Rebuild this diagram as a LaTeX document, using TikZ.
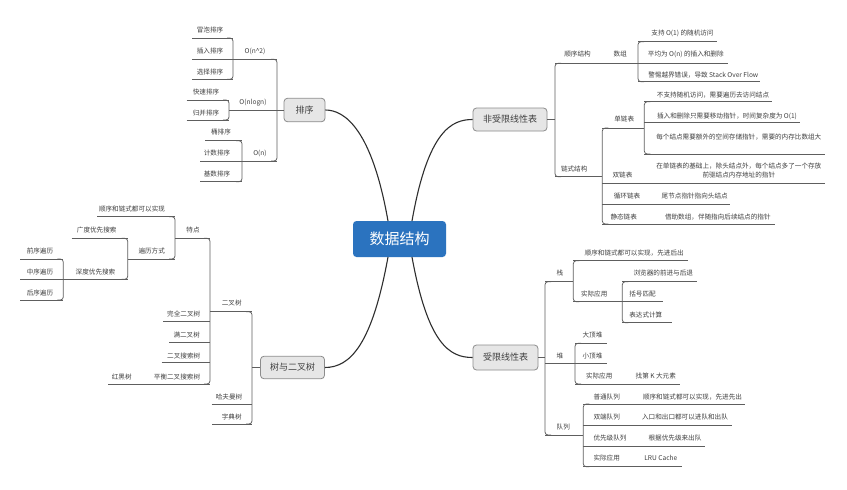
\documentclass[tikz,border=0pt]{standalone}
\usepackage{fontspec}
\setmainfont{Noto Sans CJK SC}
\definecolor{txt}{HTML}{404040}
\definecolor{lnc}{HTML}{5E5E5E}
\definecolor{topicfill}{HTML}{E6E6E6}
\definecolor{topicdraw}{HTML}{8C8C8C}
\definecolor{mainblue}{HTML}{2B73BF}
\definecolor{curve}{HTML}{2E2E2E}
\newcommand\hln[3]{\draw[ln] (#2,#1) -- (#3,#1);}
\newcommand\bkL[3]{\draw[ln,rounded corners=3pt] ({#1-6},#2) -- (#1,#2) -- (#1,#3) -- ({#1-6},#3);}
\newcommand\bkR[3]{\draw[ln,rounded corners=3pt] ({#1+6},#2) -- (#1,#2) -- (#1,#3) -- ({#1+6},#3);}
\begin{document}
\begin{tikzpicture}[x=1pt,y=-1pt,
  t/.style={font=\fontsize{6.6}{9}\selectfont, text=txt, inner sep=0pt},
  ln/.style={draw=lnc, line width=0.75pt},
  topic/.style={draw=topicdraw, fill=topicfill, rounded corners=3.5pt, line width=0.8pt,
     font=\fontsize{9}{10}\selectfont, text=txt, inner sep=0pt},
  central/.style={fill=mainblue, rounded corners=3.5pt, text=white,
     font=\fontsize{15}{16}\selectfont, inner sep=0pt, minimum width=93pt, minimum height=36pt},
  trunk/.style={draw=curve, line width=1.1pt}
]
\useasboundingbox (0,0) rectangle (847,490);
\fill[white] (0,0) rectangle (847,490);

% ---------- main nodes ----------
\node[central] (root) at (399.5,239) {数据结构};
\node[topic, minimum width=41pt, minimum height=23.5pt] (sort) at (304.5,110) {排序};
\node[topic, minimum width=74pt, minimum height=23pt] (unl) at (510,119.5) {非受限线性表};
\node[topic, minimum width=65pt, minimum height=25pt] (lim) at (505.5,357.5) {受限线性表};
\node[topic, minimum width=64pt, minimum height=22.5pt] (tree) at (292.5,367.5) {树与二叉树};

\coordinate (rtl) at (388,221);
\coordinate (rtr) at (412,221);
\coordinate (rbl) at (388,257);
\coordinate (rbr) at (412,257);
\draw[trunk] (rtl) .. controls (372,130) and (345,110) .. (sort.east);
\draw[trunk] (rtr) .. controls (428,130) and (452,119.5) .. (unl.west);
\draw[trunk] (rbl) .. controls (372,345) and (350,367.5) .. (tree.east);
\draw[trunk] (rbr) .. controls (428,345) and (450,357.5) .. (lim.west);

% ---------- 排序 ----------
\node[t] (s1) at (210,30) {冒泡排序};
\node[t] (s2) at (210,51) {插入排序};
\node[t] (s3) at (210,72) {选择排序};
\node[t] (s4) at (255,51) {O(n\textasciicircum 2)};
\node[t] (s5) at (253,102.5) {O(nlogn)};
\node[t] (s6) at (206,91.5) {快速排序};
\node[t] (s7) at (206,113) {归并排序};
\node[t] (s8) at (260,153) {O(n)};
\node[t] (s9) at (221,132) {桶排序};
\node[t] (s10) at (217,153) {计数排序};
\node[t] (s11) at (217,174) {基数排序};

\hln{38}{192}{233}
\hln{59.3}{192}{277}
\hln{79.3}{192}{233}
\bkL{233}{38}{79.3}
\draw[ln] (229,110) -- (sort.west);
\hln{100}{186.7}{229}
\hln{120}{186.7}{229}
\bkL{229}{100}{120}
\hln{161}{200}{277}
\hln{140.7}{205}{242}
\hln{181.7}{200}{242}
\bkL{242}{140.7}{181.7}
\bkL{277}{59.3}{161}

% ---------- 树与二叉树 ----------
\node[t] (t1) at (132,209.3) {顺序和链式都可以实现};
\node[t] (t2) at (193,230) {特点};
\node[t] (t3) at (151.7,251) {遍历方式};
\node[t] (t4) at (96.7,230) {广度优先搜索};
\node[t] (t5) at (95.5,271.7) {深度优先搜索};
\node[t] (t6) at (40,251) {前序遍历};
\node[t] (t7) at (40,271.7) {中序遍历};
\node[t] (t8) at (40,292.7) {后序遍历};
\node[t] (t9) at (231.7,303.3) {二叉树};
\node[t] (t10) at (183.7,314.3) {完全二叉树};
\node[t] (t11) at (186.7,335) {满二叉树};
\node[t] (t12) at (183.7,355.7) {二叉搜索树};
\node[t] (t13) at (177,376.7) {平衡二叉搜索树};
\node[t] (t14) at (121.7,376.7) {红黑树};
\node[t] (t15) at (229,396.7) {哈夫曼树};
\node[t] (t16) at (231.7,416.7) {字典树};

\hln{216.7}{97}{175}
\hln{238.3}{175}{210}
\hln{238.3}{71.7}{127.7}
\bkL{175}{216.7}{259}
\hln{259}{127.7}{175}
\hln{259}{20}{63.3}
\bkL{127.7}{238.3}{279.3}
\hln{279.3}{20}{127.7}
\bkL{63.3}{259}{300}
\hln{300}{20}{63.3}
\bkL{210}{238.3}{384}
\hln{311.7}{210}{252}
\hln{321.7}{163.3}{210}
\hln{342.3}{169}{210}
\hln{362.7}{161.7}{210}
\hln{384}{108.3}{210}
\bkL{252}{311.7}{424}
\draw[ln] (252,367.5) -- (tree.west);
\hln{404}{211.7}{252}
\hln{424}{212}{252}

% ---------- 非受限线性表 ----------
\node[t] (n1) at (577.5,54.3) {顺序结构};
\node[t] (n2) at (620.3,54.3) {数组};
\node[t] (n3) at (682.5,33.3) {支持 O(1) 的随机访问};
\node[t] (n4) at (685.8,54.3) {平均为 O(n) 的插入和删除};
\node[t] (n5) at (703.3,75) {警惕越界错误，导致 Stack Over Flow};
\node[t] (n6) at (574.2,169.3) {链式结构};
\node[t] (n7) at (624.2,119.3) {单链表};
\node[t] (n8) at (713,95) {不支持随机访问，需要遍历去访问结点};
\node[t] (n9) at (727,116) {插入和删除只需要移动指针，时间复杂度为 O(1)};
\node[t] (n10) at (738.8,137.3) {每个结点需要额外的空间存储指针，需要的内存比数组大};
\node[t] (n11) at (622.5,175) {双链表};
\node[t, align=center] (n12) at (738.8,170.5) {在单链表的基础上，除头结点外，每个结点多了一个存放\\前驱结点内存地址的指针};
\node[t] (n13) at (627,196) {循环链表};
\node[t] (n14) at (694.7,196) {尾节点指针指向头结点};
\node[t] (n15) at (623.7,217.3) {静态链表};
\node[t] (n16) at (717.8,217.3) {借助数组，伴随指向后续结点的指针};

\draw[ln] (unl.east) -- (555,119.5);
\bkR{555}{63.3}{176.7}
\hln{63.3}{555}{728.3}
\bkR{638}{41.7}{81.7}
\hln{41.7}{638}{716.7}
\hln{81.7}{638}{760}
\hln{176.7}{555}{602.3}
\bkR{602.3}{128}{224}
\hln{128}{602.3}{644.3}
\bkR{644.3}{101.7}{154}
\hln{101.7}{644.3}{771.7}
\hln{122.5}{644.3}{800}
\hln{154}{644.3}{825}
\hln{183.3}{602.3}{825}
\hln{204}{602.3}{730}
\hln{224}{602.3}{775}

% ---------- 受限线性表 ----------
\node[t] (r1) at (560,273.3) {栈};
\node[t] (r2) at (634.2,252.7) {顺序和链式都可以实现，先进后出};
\node[t] (r3) at (594.2,294) {实际应用};
\node[t] (r4) at (663.3,273.3) {浏览器的前进与后退};
\node[t] (r5) at (642.5,294) {括号匹配};
\node[t] (r6) at (645.8,315) {表达式计算};
\node[t] (r7) at (560,356) {堆};
\node[t] (r8) at (592.5,335) {大顶堆};
\node[t] (r9) at (592.5,356) {小顶堆};
\node[t] (r10) at (599.2,376) {实际应用};
\node[t] (r11) at (655.8,376) {找第 K 大元素};
\node[t] (r12) at (563.3,427.3) {队列};
\node[t] (r13) at (606.7,396.7) {普通队列};
\node[t] (r14) at (692.5,396.7) {顺序和链式都可以实现，先进先出};
\node[t] (r15) at (606.7,416.7) {双端队列};
\node[t] (r16) at (685,416.7) {入口和出口都可以进队和出队};
\node[t] (r17) at (610,438.3) {优先级队列};
\node[t] (r18) at (675,438.3) {根据优先级来出队};
\node[t] (r19) at (606.7,458.3) {实际应用};
\node[t] (r20) at (660.8,458.3) {LRU Cache};

\draw[ln] (lim.east) -- (545,357.5);
\bkR{545}{281.7}{435}
\hln{281.7}{545}{573.3}
\bkR{573.3}{260.7}{301.7}
\hln{260.7}{573.3}{688.3}
\hln{301.7}{573.3}{663.3}
\bkR{622.3}{281.7}{322.7}
\hln{281.7}{622.3}{697.3}
\hln{322.7}{622.3}{671.7}
\hln{363.3}{545}{607}
\bkR{575}{343.3}{384}
\hln{343.3}{575}{607}
\hln{384}{575}{680}
\hln{435}{545}{583.3}
\bkR{583.3}{404}{466.7}
\hln{404}{583.3}{745}
\hln{425}{583.3}{731.7}
\hln{446.7}{583.3}{705}
\hln{466.7}{583.3}{681.7}
\end{tikzpicture}
\end{document}
